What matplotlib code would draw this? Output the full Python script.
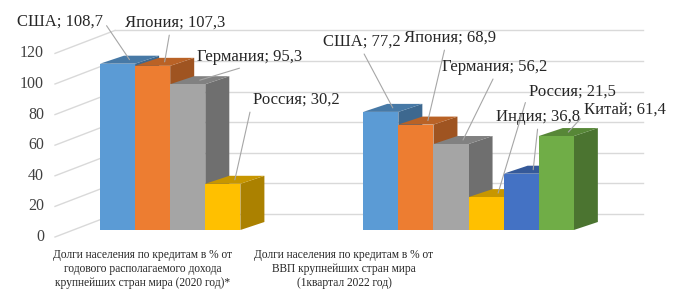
"""
    Household credit debt of the largest economies, 3D-style bar chart
"""
import matplotlib.pyplot as plt
from matplotlib.patches import Polygon
import numpy as np

categories = ['Долги населения по кредитам в % от\nгодового располагаемого дохода\n'
              'крупнейших стран мира (2020 год)*',
              'Долги населения по кредитам в % от\nВВП крупнейших стран мира\n'
              '(1квартал 2022 год)']
countries = ['США', 'Япония', 'Германия', 'Россия', 'Индия', 'Китай']
income_share = [108.7, 107.3, 95.3, 30.2]          # % of disposable income, 2020
gdp_share = [77.2, 68.9, 56.2, 21.5, 36.8, 61.4]    # % of GDP, Q1 2022
y_ticks = [0, 20, 40, 60, 80, 100, 120]

colors = ['#5B9BD5', '#ED7D31', '#A5A5A5', '#FFC000', '#4472C4', '#70AD47']

# label placement (figure pixels from top-left) and leader line anchor
label_pos = [
    [(60, 22, (1, 0.6)), (175, 23, (0.45, 0)), (250, 57, (0.5, 0)), (296, 100, (0, 0.5))],
    [(362, 42, (0.5, 0)), (450, 38, (0.45, 0)), (495, 67, (0.5, 0)),
     (572, 92, (0, 0.5)), (538, 117, (0.5, 0)), (625, 110, (0, 0.2))],
]

W, H = 682, 300
SX, SY = 35.1, 1.53      # pixels per slot / per percent
ORG_X, ORG_Y = 100, 230  # pixel position of the front origin
GRID = '#D9D9D9'
FONT = 'Liberation Serif'


def dx(px):
    return px / SX


def dy(px):
    return px / SY


def shade(c, k):
    rgb = np.array(plt.matplotlib.colors.to_rgb(c))
    return tuple(rgb * k)


def plot():
    fig = plt.figure(figsize=(W / 100, H / 100), dpi=100)
    ax = fig.add_axes([0, 0, 1, 1])
    ax.set_xlim(-dx(ORG_X), dx(W - ORG_X))
    ax.set_ylim(-dy(H - ORG_Y), dy(ORG_Y))
    ax.axis('off')

    # back wall and side wall
    for v in y_ticks:
        ax.plot([dx(15), dx(543)], [v + dy(16)] * 2, color=GRID, lw=1, zorder=0)
        ax.plot([dx(-45), dx(15)], [v - dy(7), v + dy(16)], color=GRID, lw=1, zorder=0)
        ax.text(dx(-56), v - dy(7), str(v), ha='right', va='center',
                fontsize=11.5, family=FONT, color='#404040')

    ddx, ddy = dx(24), dy(8)
    z = 1
    for g, vals in enumerate([income_share, gdp_share]):
        for i, v in enumerate(vals):
            x0 = g * 7.5 + i
            side = Polygon([(x0 + 1, 0), (x0 + 1 + ddx, ddy), (x0 + 1 + ddx, v + ddy), (x0 + 1, v)],
                           closed=True, facecolor=shade(colors[i], 0.67), edgecolor='none', zorder=z)
            top = Polygon([(x0, v), (x0 + ddx, v + ddy), (x0 + 1 + ddx, v + ddy), (x0 + 1, v)],
                          closed=True, facecolor=shade(colors[i], 0.78), edgecolor='none', zorder=z)
            ax.add_patch(side)
            ax.add_patch(top)
            ax.bar(x0 + 0.5, v, width=1, color=colors[i], zorder=z + 0.5)
            z += 1

            px, py, rel = label_pos[g][i]
            ax.annotate(f'{countries[i]}; {v:.1f}'.replace('.', ','),
                        xy=(x0 + 0.5 + ddx / 2, v + ddy / 2),
                        xytext=(px, H - py), textcoords='figure pixels',
                        ha='center', va='center', fontsize=12, family=FONT,
                        color='#262626', zorder=50,
                        arrowprops=dict(arrowstyle='-', color='#A6A6A6', lw=0.8,
                                        shrinkA=1, shrinkB=0, relpos=rel))

    # category labels, one text per line to pin the line spacing
    for cx, txt in zip([143, 344], categories):
        for k, line in enumerate(txt.split('\n')):
            fig.text(cx / W, 1 - (255 + 14 * k) / H, line, ha='center', va='center',
                     fontsize=8.3, family=FONT, color='#262626')

    fig.savefig('out.png', dpi=100)
    plt.close(fig)


if __name__ == '__main__':
    plot()
